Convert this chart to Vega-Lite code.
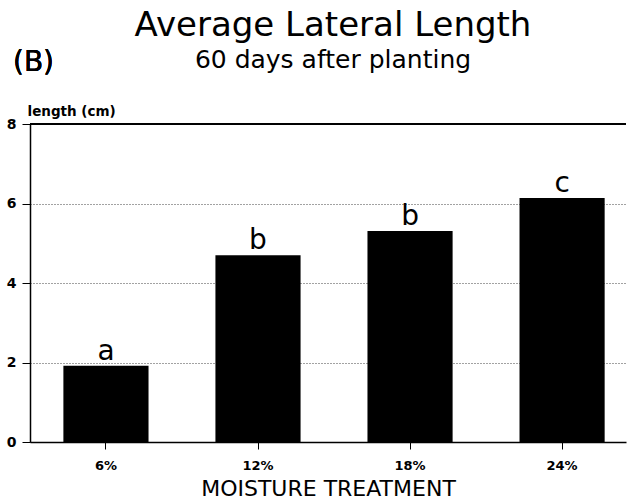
{
  "$schema": "https://vega.github.io/schema/vega-lite/v6.json",
  "width": 596,
  "height": 318,
  "autosize": {"type": "none"},
  "padding": {"left": 30, "top": 124, "right": 2, "bottom": 59},
  "background": "white",
  "config": {
    "view": {"stroke": null},
    "font": "DejaVu Sans"
  },
  "title": {
    "text": "Average Lateral Length",
    "subtitle": "60 days after planting",
    "anchor": "middle",
    "font": "DejaVu Sans",
    "fontSize": 34,
    "fontWeight": "normal",
    "color": "black",
    "subtitleFont": "DejaVu Sans",
    "subtitleFontSize": 25,
    "subtitleFontWeight": "normal",
    "subtitleColor": "black",
    "subtitlePadding": 5,
    "offset": 38,
    "dy": 62,
    "dx": 5
  },
  "data": {
    "values": [
      {"moisture": "6%", "length": 1.92, "group": "a"},
      {"moisture": "12%", "length": 4.7, "group": "b"},
      {"moisture": "18%", "length": 5.31, "group": "b"},
      {"moisture": "24%", "length": 6.14, "group": "c"}
    ]
  },
  "encoding": {
    "x": {
      "field": "moisture",
      "type": "nominal",
      "sort": ["6%", "12%", "18%", "24%"],
      "scale": {"paddingInner": 0.44, "paddingOuter": 0.18, "align": 0.61},
      "axis": {
        "title": "MOISTURE TREATMENT",
        "titleFont": "DejaVu Sans",
        "titleFontSize": 22,
        "titleFontWeight": "normal",
        "titleColor": "black",
        "titlePadding": 6,
        "labelAngle": 0,
        "labelFont": "DejaVu Sans",
        "labelFontSize": 13,
        "labelFontWeight": "bold",
        "labelColor": "black",
        "labelPadding": 10,
        "tickSize": 7,
        "tickColor": "black",
        "tickWidth": 1,
        "domainColor": "black",
        "domainWidth": 1.5
      }
    }
  },
  "layer": [
    {
      "mark": {"type": "bar", "color": "black"},
      "encoding": {
        "y": {
          "field": "length",
          "type": "quantitative",
          "scale": {"domain": [0, 8], "nice": false},
          "axis": {
            "values": [0, 2, 4, 6, 8],
            "title": "length (cm)",
            "titleAngle": 0,
            "titleAlign": "left",
            "titleBaseline": "alphabetic",
            "titleX": -3,
            "titleY": -9,
            "titleFont": "DejaVu Sans",
            "titleFontSize": 13.5,
            "titleFontWeight": "bold",
            "titleColor": "black",
            "labelFont": "DejaVu Sans",
            "labelFontSize": 14,
            "labelFontWeight": "bold",
            "labelColor": "black",
            "labelPadding": 6,
            "tickSize": 8,
            "tickColor": "black",
            "tickWidth": 1,
            "domainColor": "black",
            "domainWidth": 1.5,
            "grid": true,
            "gridColor": "#444",
            "gridDash": [1, 2],
            "gridWidth": 1
          }
        }
      }
    },
    {
      "mark": {"type": "text", "baseline": "alphabetic", "dy": -6, "fontSize": 28, "font": "DejaVu Sans", "color": "black"},
      "encoding": {
        "y": {"field": "length", "type": "quantitative"},
        "text": {"field": "group"}
      }
    },
    {
      "mark": {"type": "rule", "color": "black", "strokeWidth": 1.5},
      "encoding": {
        "y": {"datum": 8},
        "x": null
      }
    },
    {
      "mark": {"type": "text", "baseline": "alphabetic", "align": "left", "dx": -93, "fontSize": 28, "font": "DejaVu Sans", "color": "black"},
      "encoding": {
        "x": {"datum": "6%"},
        "y": {"datum": 9.33},
        "text": {"value": "(B)"}
      }
    }
  ]
}
